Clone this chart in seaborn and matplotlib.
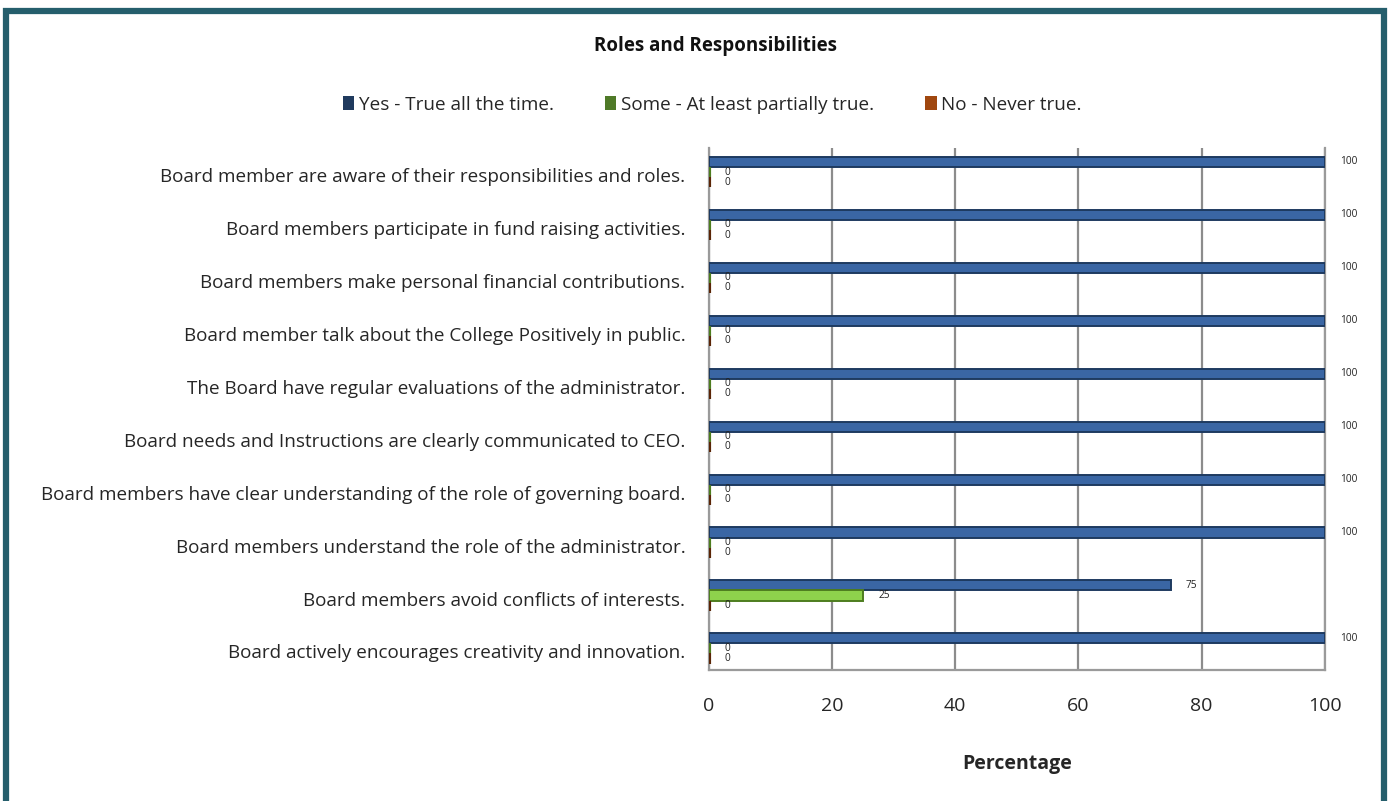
import matplotlib
matplotlib.use("Agg")
import matplotlib.pyplot as plt
import matplotlib.transforms as mtransforms
from matplotlib.patches import Patch, Rectangle
import seaborn as sns
import pandas as pd

statements = [
    "Board member are aware of their responsibilities and roles.",
    "Board members participate in fund raising activities.",
    "Board members make personal financial contributions.",
    "Board member talk about the College Positively in public.",
    "The Board have regular evaluations of the administrator.",
    "Board needs and Instructions are clearly communicated to CEO.",
    "Board members have clear understanding of the role of governing board.",
    "Board members understand the role of the administrator.",
    "Board members avoid conflicts of interests.",
    "Board actively encourages creativity and innovation.",
]
responses = ["Yes - True all the time.", "Some - At least partially true.", "No - Never true."]
yes_pct = [100, 100, 100, 100, 100, 100, 100, 100, 75, 100]
some_pct = [0, 0, 0, 0, 0, 0, 0, 0, 25, 0]
no_pct = [0, 0, 0, 0, 0, 0, 0, 0, 0, 0]
x_ticks = [0, 20, 40, 60, 80, 100]

bar_colors = ["#3A66A4", "#8ED24C", "#8A3E12"]
edge_colors = ["#1E3A60", "#4E7D1F", "#5A2506"]
key_colors = ["#203A5E", "#4F7A28", "#A0470F"]

df = pd.DataFrame({
    "statement": statements * 3,
    "response": [r for r in responses for _ in statements],
    "pct": yes_pct + some_pct + no_pct,
})

sns.set_theme(style="white")
plt.rcParams["font.family"] = ["Open Sans", "DejaVu Sans"]

fig = plt.figure(figsize=(13.9, 8.01), dpi=100)
ax = fig.add_axes([0.510, 0.164, 0.443, 0.651])

sns.barplot(data=df, y="statement", x="pct", hue="response", order=statements,
            hue_order=responses, palette=bar_colors, saturation=1, orient="h",
            width=0.57, dodge=True, ax=ax, legend=False, errorbar=None)

for cont, ec in zip(ax.containers, edge_colors):
    for patch in cont:
        patch.set_edgecolor(ec)
        patch.set_zorder(3)
        # zero-length bars still show as a short stub
        patch.set_linewidth(3.0 if patch.get_width() == 0 else 1.4)
    ax.bar_label(cont, fmt="%g", padding=11, fontsize=7.3, color="#222222")

ax.set_xlim(0, 100)
ax.set_ylim(9.40, -0.45)
ax.set_xticks(x_ticks)
ax.set_xticklabels([str(t) for t in x_ticks], fontsize=14)
ax.tick_params(axis="x", pad=20, length=0)
ax.tick_params(axis="y", labelsize=13.6, pad=17, length=0)
shift = mtransforms.ScaledTranslation(0, -3 / 100, fig.dpi_scale_trans)
for lbl in ax.get_yticklabels():
    lbl.set_transform(lbl.get_transform() + shift)
ax.set_ylabel("")
ax.set_xlabel("Percentage", fontsize=14, fontweight="bold", labelpad=28)
ax.xaxis.grid(True, color="#8C8C8C", linewidth=1.6)
ax.set_axisbelow(True)
ax.spines["top"].set_visible(False)
for side in ["left", "bottom", "right"]:
    ax.spines[side].set_color("#9A9A9A")
    ax.spines[side].set_linewidth(1.6)

fig.text(0.515, 0.942, "Roles and Responsibilities", ha="center", va="center",
         fontsize=13.5, fontweight="bold", color="#111111")

handles = [Patch(facecolor=c, edgecolor="none") for c in key_colors]
fig.legend(handles, responses, loc="center", bbox_to_anchor=(0.5125, 0.869), ncol=3,
           frameon=False, fontsize=13.6, handlelength=0.6, handleheight=0.75,
           handletextpad=0.25, columnspacing=2.7)

# outer frame
fig.patches.append(Rectangle((0.0043, -0.05), 0.9914, 1.036, transform=fig.transFigure,
                             fill=False, edgecolor="#255E6C", linewidth=4.5))

fig.savefig("out.png", dpi=100, facecolor="white")
